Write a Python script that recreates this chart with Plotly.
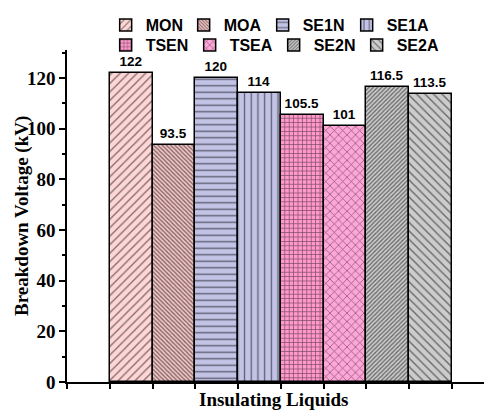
import plotly.graph_objects as go

categories = ["MON", "MOA", "SE1N", "SE1A", "TSEN", "TSEA", "SE2N", "SE2A"]
values = [122, 93.5, 120, 114, 105.5, 101, 116.5, 113.5]
value_labels = ["122", "93.5", "120", "114", "105.5", "101", "116.5", "113.5"]
y_ticks = [0, 20, 40, 60, 80, 100, 120]

colors = ["#FFD6D6", "#F6C6C6", "#C3C3E6", "#C3C3E6", "#FF99CC", "#FFA6D9", "#CCCCCC", "#CCCCCC"]
shapes = ["/", "\\", "-", "|", "+", "x", "/", "\\"]
sizes = [6, 3, 6.5, 6.7, 4.4, 6, 3, 6]
solid = [0.22, 0.42, 0.22, 0.2, 0.3, 0.22, 0.42, 0.22]
legend_widths = [33, 34, 39, 45, 39, 39, 38, 45]

fig = go.Figure()
for i, (c, v) in enumerate(zip(categories, values)):
    fig.add_trace(go.Bar(
        x=[i + 1], y=[v], width=1, name=c,
        legend="legend" if i < 4 else "legend2",
        legendwidth=legend_widths[i],
        marker=dict(color=colors[i], line=dict(color="black", width=1.5),
                    pattern=dict(shape=shapes[i], fgcolor="black", bgcolor=colors[i],
                                 size=sizes[i], solidity=solid[i], fillmode="overlay")),
        text=[value_labels[i]], textposition="outside", cliponaxis=False,
        textfont=dict(family="Arial, Liberation Sans", size=13.5, color="black", weight="bold"),
    ))

edges = [-0.5] + [k + 0.5 for k in range(len(categories) + 1)]

# the page body adds an 8px offset; size the figure so the plot lands where the reference has it
fig.update_layout(
    width=484, height=402,
    margin=dict(l=59, r=0, t=31, b=28),
    plot_bgcolor="white", paper_bgcolor="white",
    barmode="overlay", bargap=0,
    showlegend=True,
    legend=dict(orientation="h", x=0.091, y=1.075, xanchor="left", yanchor="middle",
                font=dict(family="Arial, Liberation Sans", size=16, color="black", weight="bold"),
                bgcolor="rgba(0,0,0,0)", itemwidth=30, tracegroupgap=0),
    legend2=dict(orientation="h", x=0.091, y=1.015, xanchor="left", yanchor="middle",
                 font=dict(family="Arial, Liberation Sans", size=16, color="black", weight="bold"),
                 bgcolor="rgba(0,0,0,0)", itemwidth=30, tracegroupgap=0),
    xaxis=dict(range=[-0.5, 9.44], showgrid=False, zeroline=False, showline=True,
               linecolor="black", linewidth=1.5, tickmode="array", tickvals=edges,
               ticktext=[""] * len(edges), ticks="outside", ticklen=5, tickwidth=1.5,
               tickcolor="black", automargin=False),
    yaxis=dict(range=[0, 131], showgrid=False, zeroline=False, showline=True,
               linecolor="black", linewidth=1.5, tickmode="array", tickvals=y_ticks,
               ticks="outside", ticklen=6, tickwidth=1.5, tickcolor="black",
               minor=dict(dtick=10, tick0=0, ticks="outside", ticklen=3, tickwidth=1.5,
                          tickcolor="black"),
               tickfont=dict(family="Times New Roman, Liberation Serif", size=19,
                             color="black", weight="bold"),
               automargin=False),
    annotations=[
        dict(text="Insulating Liquids", xref="paper", yref="paper",
             x=0.485, y=-0.052, xanchor="center", yanchor="middle", showarrow=False,
             font=dict(family="Times New Roman, Liberation Serif", size=19,
                       color="black", weight="bold")),
        dict(text="Breakdown Voltage (kV)", xref="paper", yref="paper", textangle=-90,
             x=-0.106, y=0.5, xanchor="center", yanchor="middle", showarrow=False,
             font=dict(family="Times New Roman, Liberation Serif", size=19,
                       color="black", weight="bold")),
    ],
)

fig.write_html("out.html")
